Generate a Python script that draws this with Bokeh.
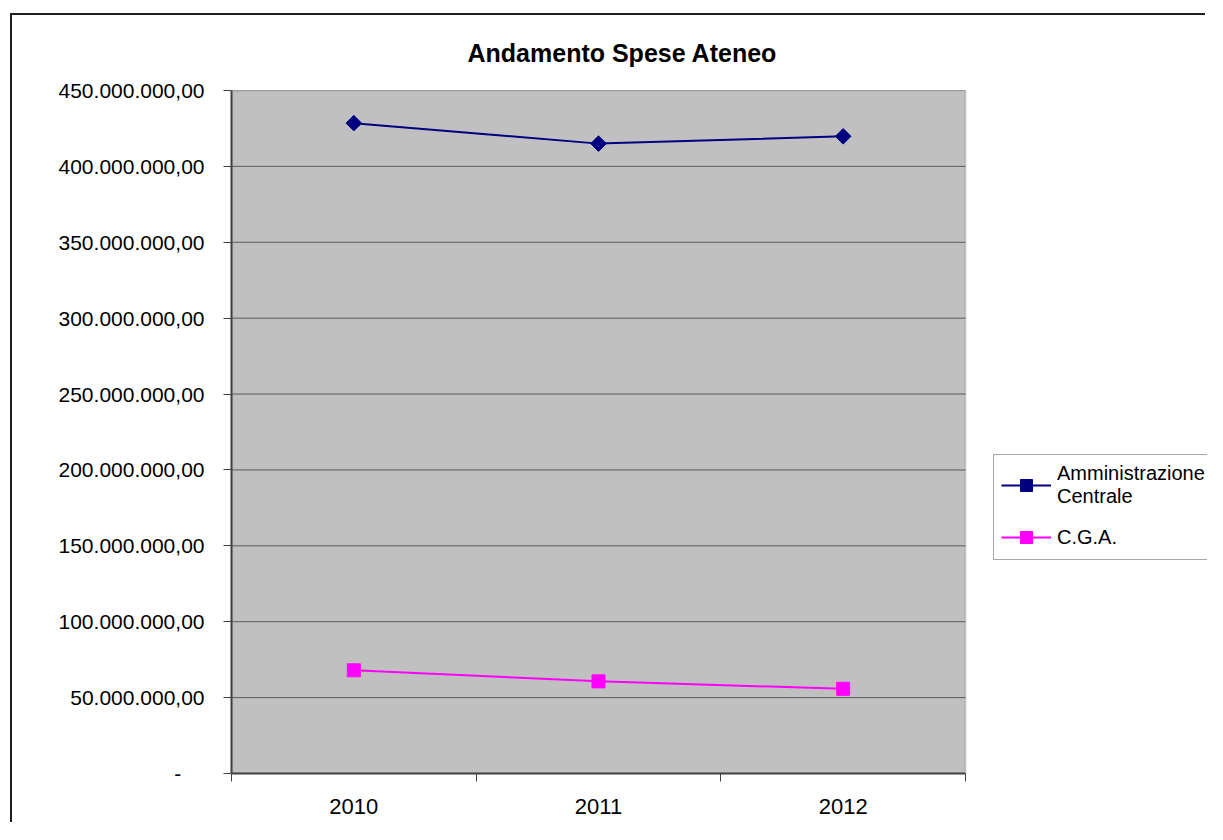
from bokeh.plotting import figure
from bokeh.models import (Range1d, FixedTicker, Legend, LegendItem, Title, BoxAnnotation)
from bokeh.embed import file_html
from bokeh.resources import INLINE

# ---- data ----
years = ["2010", "2011", "2012"]
amministrazione_centrale = [428_500_000, 415_000_000, 419_800_000]
cga = [68_000_000, 60_700_000, 55_800_000]
y_ticks = [0, 50_000_000, 100_000_000, 150_000_000, 200_000_000,
           250_000_000, 300_000_000, 350_000_000, 400_000_000, 450_000_000]
title_text = "Andamento Spese Ateneo"
series_names = ["Amministrazione\nCentrale", "C.G.A."]

FONT = "Liberation Sans"

# layout (pixels)
W, H = 1195, 809
LEFT, TOP, BOTTOM = 219, 75, 51
PLOT_AREA_W = 734            # width of the grey plotting area
FRAME_W = W - LEFT           # frame extends to the right edge (legend lives there)
n = len(years)
x_end = n * FRAME_W / PLOT_AREA_W

x_pos = [i + 0.5 for i in range(n)]


def it_fmt(v):
    if v == 0:
        return "-\u00a0\u00a0\u00a0\u00a0"
    s = f"{v:,.2f}"
    return s.replace(",", "X").replace(".", ",").replace("X", ".")


p = figure(width=W, height=H, output_backend="svg", toolbar_location=None,
           x_range=Range1d(0, x_end), y_range=Range1d(0, y_ticks[-1]),
           min_border_left=LEFT, min_border_top=TOP, min_border_right=0,
           min_border_bottom=BOTTOM)
p.margin = (13, 0, 0, 10)
p.styles = {"border-left": "2px solid #1e1e1e", "border-top": "2px solid #1e1e1e"}

p.background_fill_color = "white"
p.border_fill_color = "white"
p.outline_line_color = None

# grey plotting area
area = BoxAnnotation(left=0, right=n, fill_color="#C0C0C0", fill_alpha=1,
                     line_color="#808080", line_width=2, level="underlay")
p.add_layout(area)

t = Title(text=title_text, align="left", offset=236, text_font=FONT,
          text_font_size="25px", text_font_style="bold", text_color="black",
          standoff=44, vertical_align="top")
p.add_layout(t, "above")

# y axis
p.yaxis.ticker = FixedTicker(ticks=y_ticks)
p.yaxis.major_label_overrides = {v: it_fmt(v) for v in y_ticks}
p.yaxis.major_label_text_font = FONT
p.yaxis.major_label_text_font_size = "21px"
p.yaxis.major_label_text_color = "black"
p.yaxis.major_tick_out = 8
p.yaxis.major_tick_in = 0
p.yaxis.major_tick_line_color = "#404040"
p.yaxis.minor_tick_line_color = None
p.yaxis.axis_line_color = "#404040"
p.yaxis.axis_line_width = 2
p.yaxis.major_label_standoff = 19

# x axis
p.xaxis.ticker = FixedTicker(ticks=x_pos, minor_ticks=list(range(n + 1)))
p.xaxis.bounds = (0, n)
p.xaxis.major_label_overrides = {x: y for x, y in zip(x_pos, years)}
p.xaxis.major_tick_line_color = None
p.xaxis.minor_tick_line_color = "#404040"
p.xaxis.minor_tick_out = 8
p.xaxis.minor_tick_in = 0
p.xaxis.axis_line_color = "#404040"
p.xaxis.axis_line_width = 2
p.xaxis.major_label_text_font = FONT
p.xaxis.major_label_text_font_size = "22px"
p.xaxis.major_label_text_color = "black"
p.xaxis.major_label_standoff = 17

p.xgrid.grid_line_color = None
p.ygrid.grid_line_color = None

# horizontal gridlines limited to the grey plotting area
p.segment(x0=[0] * (len(y_ticks) - 1), y0=y_ticks[1:],
          x1=[n] * (len(y_ticks) - 1), y1=y_ticks[1:],
          line_color="#5a5a5a", line_width=1)

# series
l1 = p.line(x_pos, amministrazione_centrale, line_color="#000080", line_width=2)
m1 = p.scatter(x_pos, amministrazione_centrale, marker="square", angle=0.785398,
               size=11, fill_color="#000080", line_color="#000080")
l2 = p.line(x_pos, cga, line_color="#FF00FF", line_width=2)
m2 = p.scatter(x_pos, cga, marker="square", size=13,
               fill_color="#FF00FF", line_color="#FF00FF")

legend = Legend(items=[LegendItem(label=series_names[0], renderers=[l1, m1]),
                       LegendItem(label=series_names[1], renderers=[l2, m2])],
                location=(762, 213))
legend.label_text_font = FONT
legend.label_text_font_size = "20px"
legend.label_text_color = "black"
legend.glyph_width = 50
legend.glyph_height = 30
legend.label_standoff = 6
legend.padding = 7
legend.spacing = 14
legend.margin = 0
legend.border_line_color = "#505050"
legend.border_line_width = 1
legend.background_fill_color = "white"
legend.background_fill_alpha = 1
p.add_layout(legend, "center")

open("out.html", "w").write(file_html(p, INLINE))
